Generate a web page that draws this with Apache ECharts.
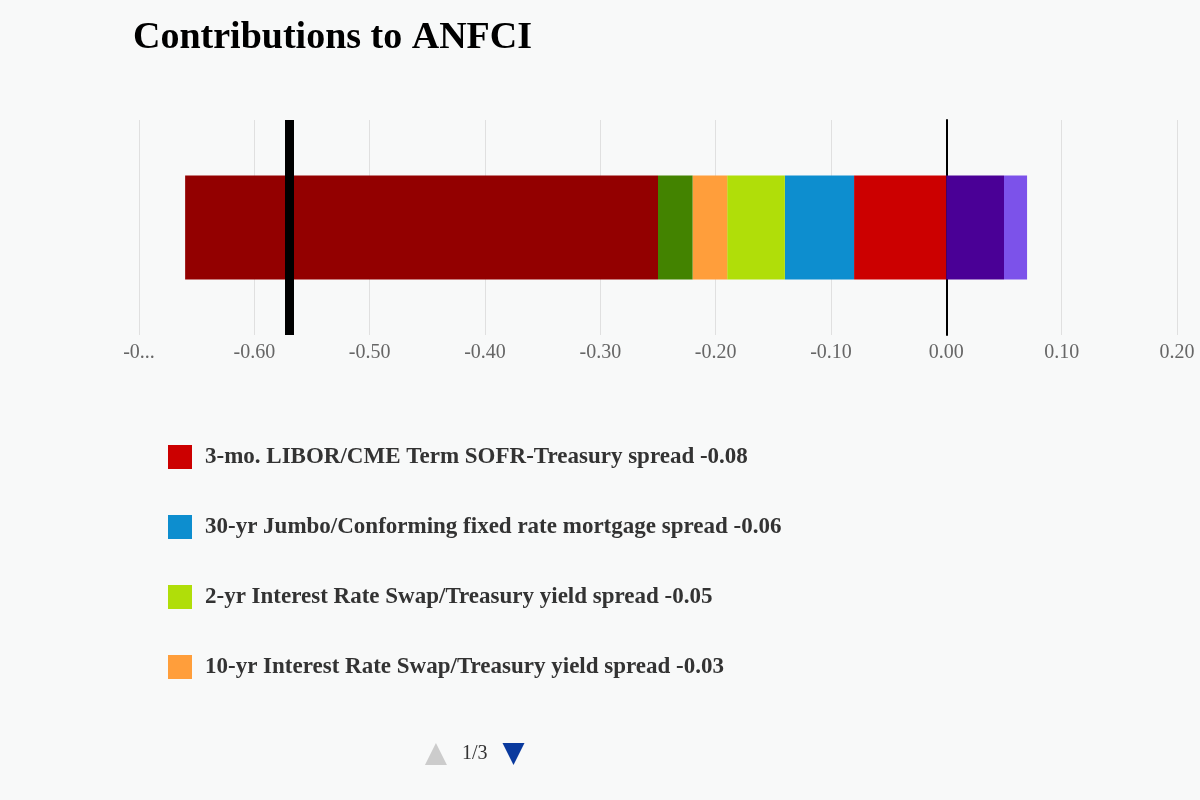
<!DOCTYPE html>
<html><head><meta charset="utf-8">
<script src="https://cdn.jsdelivr.net/npm/echarts@6/dist/echarts.min.js"></script>
<style>html,body{margin:0;background:#f8f9f9}#c{width:1200px;height:800px}</style>
</head><body><div id="c"></div>
<script>
const categories = ['ANFCI'];
const seriesNames = [
  '3-mo. LIBOR/CME Term SOFR-Treasury spread -0.08',
  '30-yr Jumbo/Conforming fixed rate mortgage spread -0.06',
  '2-yr Interest Rate Swap/Treasury yield spread -0.05',
  '10-yr Interest Rate Swap/Treasury yield spread -0.03',
  '3-mo. Commercial Paper/Treasury bill spread -0.03',
  'Other indicators -0.41',
  'Household debt outstanding 0.05',
  'Nonfinancial business debt 0.02'
];
const seriesValues = [-0.08, -0.06, -0.05, -0.03, -0.03, -0.41, 0.05, 0.02];
const seriesColors = ['#cc0000', '#0d8ecf', '#b0de09', '#ff9e3b', '#438300', '#930000', '#4a0096', '#7c52ea'];
const anfciValue = -0.569;
const xTicks = {min: -0.7, max: 0.2, interval: 0.1};

const series = seriesNames.map((n, i) => ({
  name: n, type: 'bar', stack: 'total', barWidth: 104,
  data: [seriesValues[i]], itemStyle: {color: seriesColors[i]},
  markLine: i === 0 ? {silent: true, symbol: 'none', label: {show: false},
    lineStyle: {color: '#000', width: 9, type: 'solid'},
    data: [{xAxis: anfciValue}]} : undefined
}));

const chart = echarts.init(document.getElementById('c'));
chart.setOption({
  backgroundColor: '#f8f9f9',
  animation: false,
  title: {text: 'Contributions to ANFCI', left: 128, top: 14,
    textStyle: {fontFamily: 'Liberation Serif', fontSize: 38, fontWeight: 'bold', color: '#000'}},
  grid: {left: 139, right: 23, top: 120, bottom: 465},
  xAxis: {type: 'value', min: xTicks.min, max: xTicks.max, interval: xTicks.interval,
    axisLine: {show: false}, axisTick: {show: false},
    splitLine: {lineStyle: {color: '#e0e0e0', width: 1}},
    axisLabel: {color: '#666', fontFamily: 'Liberation Serif', fontSize: 20, margin: 8,
      formatter: v => Math.abs(v + 0.7) < 1e-9 ? '-0...' : v.toFixed(2)}},
  yAxis: {type: 'category', data: categories, axisLabel: {show: false}, axisTick: {show: false},
    axisLine: {show: true, onZero: true, lineStyle: {color: '#000', width: 2}}},
  legend: {type: 'scroll', orient: 'vertical', left: 163, top: 440, height: 320,
    itemWidth: 24, itemHeight: 24, itemGap: 46, icon: 'rect',
    textStyle: {fontFamily: 'Liberation Serif', fontSize: 23, fontWeight: 'bold', color: '#333', padding: [0,0,0,8]},
    pageIconColor: '#0a3a9e', pageIconInactiveColor: '#ccc', pageIconSize: 22,
    pageTextStyle: {fontFamily: 'Liberation Serif', fontSize: 20, color: '#333'}},
  series
});
</script></body></html>
